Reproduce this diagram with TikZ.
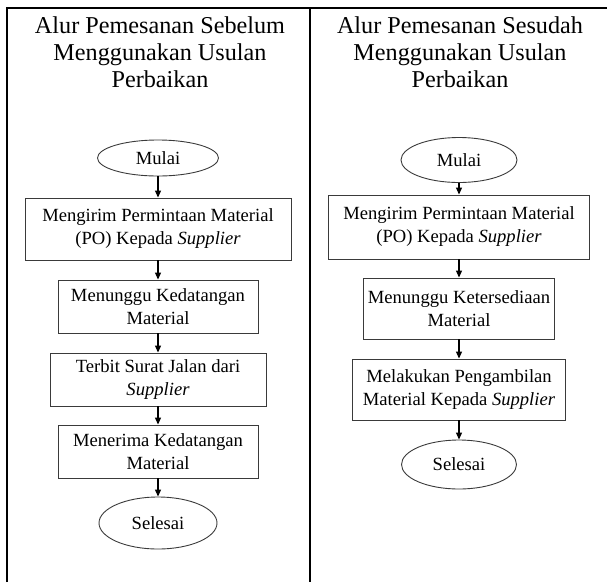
\documentclass[tikz,border=0pt]{standalone}
\usepackage{fontspec}
\setmainfont{Liberation Serif}
\usetikzlibrary{arrows.meta, shapes.geometric}
\definecolor{lineGray}{HTML}{3A3A3A}

\begin{document}
\begin{tikzpicture}[x=1pt, y=-1pt,
    frameline/.style={line width=2pt},
    heading/.style={align=center, inner sep=0pt, font=\fontsize{24.2}{27}\selectfont},
    procbox/.style={draw=lineGray, line width=0.9pt, align=center, inner sep=0pt,
                    font=\fontsize{18.6}{23}\selectfont},
    terminal/.style={ellipse, draw=lineGray, line width=0.9pt, inner sep=0pt,
                     font=\fontsize{18.6}{23}\selectfont},
    flowarrow/.style={line width=1.1pt, -{Triangle[length=7pt, width=6pt]}}]
  \useasboundingbox (0,0) rectangle (607,582);

  % table lines
  \coordinate (topL) at (7,8);
  \coordinate (topR) at (607,8);
  \draw[frameline] (7,582) -- (topL) -- (topR);
  \draw[frameline] (310,8) -- (310,582);

  % before
  \node[heading, anchor=base] (titleA) at (160,87)
    {Alur Pemesanan Sebelum\\Menggunakan Usulan\\Perbaikan};
  \node[terminal, minimum width=121, minimum height=36] (startA) at (158,158) {Mulai};
  \node[procbox, minimum width=266, minimum height=62] (orderA) at (158,229)
    {Mengirim Permintaan Material\\(PO) Kepada \textit{Supplier}};
  \node[procbox, minimum width=200, minimum height=53] (waitA) at (158,306.5)
    {Menunggu Kedatangan\\Material};
  \node[procbox, minimum width=216, minimum height=53] (letterA) at (158,379.5)
    {Terbit Surat Jalan dari\\\textit{Supplier}};
  \node[procbox, minimum width=200, minimum height=53] (receiveA) at (158,451.5)
    {Menerima Kedatangan\\Material};
  \node[terminal, minimum width=118, minimum height=52] (endA) at (158,523) {Selesai};

  \draw[flowarrow] (startA) -- (orderA);
  \draw[flowarrow] (orderA) -- (waitA);
  \draw[flowarrow] (waitA) -- (letterA);
  \draw[flowarrow] (letterA) -- (receiveA);
  \draw[flowarrow] (receiveA) -- (endA);

  % after
  \node[heading, anchor=base] (titleB) at (460,87)
    {Alur Pemesanan Sesudah\\Menggunakan Usulan\\Perbaikan};
  \node[terminal, minimum width=116, minimum height=45] (startB) at (459,160) {Mulai};
  \node[procbox, minimum width=261, minimum height=64] (orderB) at (459,227)
    {Mengirim Permintaan Material\\(PO) Kepada \textit{Supplier}};
  \node[procbox, minimum width=191, minimum height=61] (waitB) at (459,308.5)
    {Menunggu Ketersediaan\\Material};
  \node[procbox, minimum width=213, minimum height=61] (pickB) at (459,389.5)
    {Melakukan Pengambilan\\Material Kepada \textit{Supplier}};
  \node[terminal, minimum width=115, minimum height=49] (endB) at (459,464.5) {Selesai};

  \draw[flowarrow] (startB) -- (orderB);
  \draw[flowarrow] (orderB) -- (waitB);
  \draw[flowarrow] (waitB) -- (pickB);
  \draw[flowarrow] (pickB) -- (endB);
\end{tikzpicture}
\end{document}
